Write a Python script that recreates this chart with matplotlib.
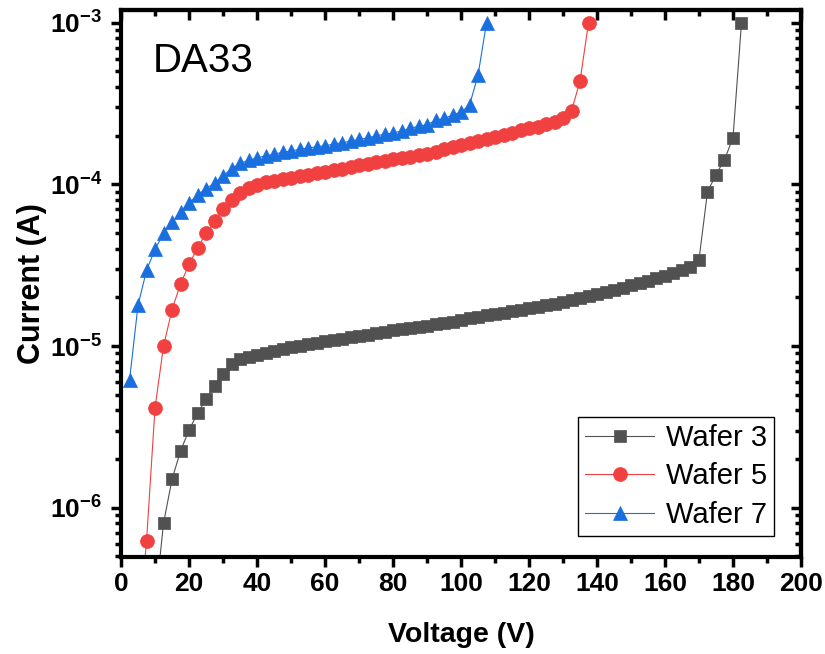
import math
import matplotlib
matplotlib.use('Agg')
import matplotlib.pyplot as plt
from matplotlib.ticker import MultipleLocator, LogLocator, NullFormatter, FuncFormatter

plt.rcParams['font.family'] = ['Liberation Sans', 'DejaVu Sans']
plt.rcParams['mathtext.fontset'] = 'custom'
plt.rcParams['mathtext.rm'] = 'Liberation Sans'
plt.rcParams['mathtext.bf'] = 'Liberation Sans:bold'

# Wafer 3 (gray squares)
v3 = [10, 12.5, 15, 17.5, 20, 22.5, 25, 27.5, 30, 32.5, 35, 37.5, 40, 42.5, 45,
      47.5, 50, 52.5, 55, 57.5, 60, 62.5, 65, 67.5, 70, 72.5, 75, 77.5, 80, 82.5,
      85, 87.5, 90, 92.5, 95, 97.5, 100, 102.5, 105, 107.5, 110, 112.5, 115, 117.5,
      120, 122.5, 125, 127.5, 130, 132.5, 135, 137.5, 140, 142.5, 145, 147.5, 150,
      152.5, 155, 157.5, 160, 162.5, 165, 167.5, 170, 172.5, 175, 177.5, 180, 182.5]
i3 = [2.5e-7, 8.0e-7, 1.50e-6, 2.24e-6, 3.02e-6, 3.83e-6, 4.68e-6, 5.65e-6, 6.70e-6,
      7.7e-6, 8.3e-6, 8.6e-6, 8.85e-6, 9.1e-6, 9.35e-6, 9.6e-6, 9.8e-6, 1.0e-5,
      1.03e-5, 1.05e-5, 1.07e-5, 1.09e-5, 1.11e-5, 1.13e-5, 1.15e-5, 1.17e-5,
      1.20e-5, 1.22e-5, 1.25e-5, 1.27e-5, 1.29e-5, 1.31e-5, 1.33e-5, 1.36e-5,
      1.39e-5, 1.41e-5, 1.44e-5, 1.49e-5, 1.52e-5, 1.55e-5, 1.58e-5, 1.61e-5,
      1.64e-5, 1.68e-5, 1.71e-5, 1.75e-5, 1.79e-5, 1.83e-5, 1.88e-5, 1.92e-5,
      1.97e-5, 2.03e-5, 2.09e-5, 2.16e-5, 2.23e-5, 2.30e-5, 2.37e-5, 2.45e-5,
      2.54e-5, 2.63e-5, 2.73e-5, 2.84e-5, 2.96e-5, 3.10e-5, 3.43e-5, 9.0e-5,
      1.15e-4, 1.42e-4, 1.95e-4, 1.0e-3]

# Wafer 5 (red circles)
v5 = [5, 7.5, 10, 12.5, 15, 17.5, 20, 22.5, 25, 27.5, 30, 32.5, 35, 37.5, 40, 42.5,
      45, 47.5, 50, 52.5, 55, 57.5, 60, 62.5, 65, 67.5, 70, 72.5, 75, 77.5, 80, 82.5,
      85, 87.5, 90, 92.5, 95, 97.5, 100, 102.5, 105, 107.5, 110, 112.5, 115, 117.5,
      120, 122.5, 125, 127.5, 130, 132.5, 135, 137.5]
i5 = [1.5e-7, 6.2e-7, 4.15e-6, 1.0e-5, 1.68e-5, 2.42e-5, 3.2e-5, 4.05e-5, 4.97e-5,
      5.92e-5, 7.0e-5, 7.98e-5, 8.8e-5, 9.5e-5, 9.9e-5, 1.03e-4, 1.05e-4, 1.08e-4,
      1.10e-4, 1.13e-4, 1.15e-4, 1.18e-4, 1.20e-4, 1.23e-4, 1.25e-4, 1.28e-4,
      1.31e-4, 1.34e-4, 1.37e-4, 1.40e-4, 1.43e-4, 1.46e-4, 1.48e-4, 1.51e-4,
      1.54e-4, 1.59e-4, 1.65e-4, 1.71e-4, 1.76e-4, 1.80e-4, 1.85e-4, 1.90e-4,
      1.96e-4, 2.02e-4, 2.09e-4, 2.16e-4, 2.22e-4, 2.28e-4, 2.36e-4, 2.45e-4,
      2.56e-4, 2.85e-4, 4.36e-4, 1.0e-3]

# Wafer 7 (blue triangles)
v7 = [2.5, 5, 7.5, 10, 12.5, 15, 17.5, 20, 22.5, 25, 27.5, 30, 32.5, 35, 37.5, 40,
      42.5, 45, 47.5, 50, 52.5, 55, 57.5, 60, 62.5, 65, 67.5, 70, 72.5, 75, 77.5, 80,
      82.5, 85, 87.5, 90, 92.5, 95, 97.5, 100, 102.5, 105, 107.5]
i7 = [6.15e-6, 1.79e-5, 2.94e-5, 3.97e-5, 4.97e-5, 5.86e-5, 6.76e-5, 7.69e-5,
      8.58e-5, 9.43e-5, 1.02e-4, 1.13e-4, 1.25e-4, 1.35e-4, 1.41e-4, 1.46e-4,
      1.50e-4, 1.54e-4, 1.58e-4, 1.61e-4, 1.65e-4, 1.68e-4, 1.71e-4, 1.73e-4,
      1.78e-4, 1.81e-4, 1.85e-4, 1.90e-4, 1.94e-4, 2.00e-4, 2.04e-4, 2.08e-4,
      2.14e-4, 2.22e-4, 2.29e-4, 2.34e-4, 2.49e-4, 2.56e-4, 2.68e-4, 2.81e-4,
      3.09e-4, 4.73e-4, 1.0e-3]

fig = plt.figure(figsize=(8.25, 6.54), dpi=100)
ax = fig.add_axes([0.1467, 0.1483, 0.8242, 0.8364])

ax.plot(v3, i3, color='#515151', lw=0.8, marker='s', ms=8, mec='#515151',
        mew=0.5, label='Wafer 3')
ax.plot(v5, i5, color='#F14040', lw=0.8, marker='o', ms=10, mec='#F14040',
        mew=0.5, label='Wafer 5')
ax.plot(v7, i7, color='#1A6FDF', lw=0.8, marker='^', ms=10, mec='#1A6FDF',
        mew=0.5, label='Wafer 7')

ax.set_yscale('log')
ax.set_xlim(0, 200)
ax.set_ylim(4.95e-7, 1.2e-3)

ax.xaxis.set_major_locator(MultipleLocator(20))
ax.xaxis.set_minor_locator(MultipleLocator(10))
ax.yaxis.set_major_locator(LogLocator(base=10, numticks=10))
ax.yaxis.set_minor_locator(LogLocator(base=10, subs=range(2, 10), numticks=20))
ax.yaxis.set_minor_formatter(NullFormatter())
ax.yaxis.set_major_formatter(FuncFormatter(
    lambda y, p: r'$\mathbf{10^{%d}}$' % round(math.log10(y))))

for s in ax.spines.values():
    s.set_linewidth(3)

ax.tick_params(which='major', length=7.5, width=2.5, labelsize=19)
ax.tick_params(which='minor', length=4, width=2.5)
ax.tick_params(axis='x', which='both', direction='out', top=False, pad=3)
ax.tick_params(axis='y', which='both', direction='out', right=False, pad=6)
for lab in ax.get_xticklabels():
    lab.set_fontweight('bold')

# inward ticks on top and right
ax_top = ax.secondary_xaxis('top')
ax_top.set_xticks(range(0, 201, 20))
ax_top.xaxis.set_minor_locator(MultipleLocator(10))
ax_top.tick_params(which='major', direction='in', length=7.5, width=2.5, labeltop=False)
ax_top.tick_params(which='minor', direction='in', length=4, width=2.5)
ax_top.spines['top'].set_linewidth(3)

ax_r = ax.secondary_yaxis('right')
ax_r.yaxis.set_major_locator(LogLocator(base=10, numticks=10))
ax_r.yaxis.set_minor_locator(LogLocator(base=10, subs=range(2, 10), numticks=20))
ax_r.yaxis.set_minor_formatter(NullFormatter())
ax_r.tick_params(which='major', direction='in', length=7.5, width=2.5, labelright=False)
ax_r.tick_params(which='minor', direction='in', length=4, width=2.5)
ax_r.spines['right'].set_linewidth(3)

ax.set_xlabel('Voltage (V)', fontsize=20.5, fontweight='bold', labelpad=19)
ax.set_ylabel('Current (A)', fontsize=22, fontweight='bold', labelpad=2)

ax.text(0.046, 0.887, 'DA33', transform=ax.transAxes, fontsize=29)

leg = ax.legend(loc='lower right', bbox_to_anchor=(774 / 825, 1 - 536 / 654),
                bbox_transform=fig.transFigure, borderaxespad=0, fontsize=21,
                handlelength=2.35, labelspacing=0.35, handletextpad=0.4,
                borderpad=0.25, fancybox=False, edgecolor='black', framealpha=1)
leg.get_frame().set_linewidth(1)

fig.savefig('out.png', dpi=100)
